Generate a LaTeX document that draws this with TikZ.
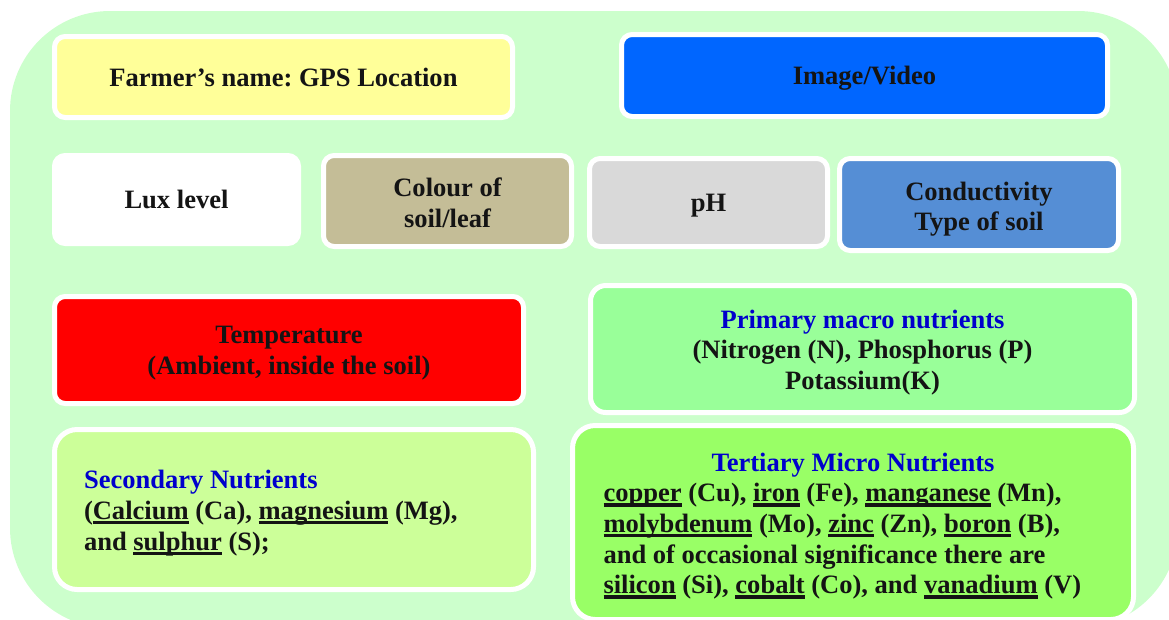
\documentclass[tikz,border=0pt]{standalone}
\usepackage{fontspec}
\setmainfont{Liberation Serif}
\frenchspacing

\definecolor{bggreen}{HTML}{CCFFCC}
\definecolor{farmeryellow}{HTML}{FFFF99}
\definecolor{mediablue}{HTML}{0066FF}
\definecolor{soiltan}{HTML}{C4BD97}
\definecolor{phgrey}{HTML}{D9D9D9}
\definecolor{condblue}{HTML}{558ED5}
\definecolor{tempred}{HTML}{FF0000}
\definecolor{primgreen}{HTML}{99FF99}
\definecolor{secgreen}{HTML}{CCFF99}
\definecolor{tertgreen}{HTML}{99FF66}
\definecolor{titleblue}{HTML}{0000CC}
\definecolor{inkblack}{HTML}{141414}

% word underlined with a heavy rule just below the baseline
\newsavebox\ulbox
\newcommand\ulword[1]{\leavevmode\sbox\ulbox{#1}%
  \rlap{\rule[-3.8pt]{\wd\ulbox}{2.5pt}}\usebox\ulbox}

\tikzset{
  box/.style={draw=white, line width=3.75pt, rounded corners=8pt,
    inner sep=0pt, align=center, text=inkblack,
    font=\fontsize{19.9}{23}\selectfont\bfseries},
  oneline/.style={text height=16pt, text depth=2pt},
  bigbox/.style={box, rounded corners=17pt, align=flush left},
}

\begin{document}
\begin{tikzpicture}[x=0.75pt, y=-0.75pt]
\useasboundingbox (0,0) rectangle (1169,619);

% panel behind all boxes
\fill[bggreen, rounded corners=75pt] (10,11) rectangle (1178,628);

% first row
\node[box, oneline, fill=farmeryellow, minimum width=343.5pt, minimum height=60.75pt]
  (farmer) at (283.5,77) {Farmer’s name: GPS Location};
\node[box, oneline, fill=mediablue, minimum width=364.5pt, minimum height=61.5pt]
  (media) at (864.5,75.5) {Image/Video};

% second row
\node[box, oneline, fill=white, minimum width=183pt, minimum height=66pt]
  (lux) at (176.5,199.5) {Lux level};
\node[box, fill=soiltan, minimum width=186pt, minimum height=68.25pt]
  (colour) at (447.5,201) {\rule{0pt}{17pt}Colour of\\soil/leaf};
\node[box, oneline, fill=phgrey, minimum width=178.5pt, minimum height=66pt]
  (ph) at (708.5,202.5) {pH};
\node[box, fill=condblue, minimum width=209.25pt, minimum height=69pt]
  (cond) at (979,204.5) {\rule{0pt}{21pt}Conductivity\\Type of soil};

% third row
\node[box, fill=tempred, minimum width=351.75pt, minimum height=80.25pt]
  (temp) at (289,350) {\rule{0pt}{18pt}Temperature\\(Ambient, inside the soil)};
\node[box, rounded corners=11.5pt, fill=primgreen, minimum width=408pt, minimum height=95.25pt]
  (primary) at (862.5,349)
  {\rule{0pt}{19pt}\textcolor{titleblue}{Primary macro nutrients}\\
   (Nitrogen (N), Phosphorus (P)\\
   Potassium(K)};

% fourth row
\node[bigbox, fill=secgreen, minimum height=120pt, text width=315pt,
  inner xsep=22.125pt]
  (secondary) at (294,509.5)
  {\rule{0pt}{19pt}\textcolor{titleblue}{Secondary Nutrients}\\
   (\ulword{Calcium} (Ca), \ulword{magnesium} (Mg),\\
   and \ulword{sulphur} (S);};
\node[bigbox, fill=tertgreen, minimum height=145.5pt, text width=374.25pt,
  inner xsep=23.25pt]
  (tertiary) at (853,522.5)
  {\rule{0pt}{19pt}\makebox[374.25pt][c]{\textcolor{titleblue}{Tertiary Micro Nutrients}}\\
   \ulword{copper} (Cu), \ulword{iron} (Fe), \ulword{manganese} (Mn),\\
   \ulword{molybdenum} (Mo), \ulword{zinc} (Zn), \ulword{boron} (B),\\
   and of occasional significance there are\\
   \ulword{silicon} (Si), \ulword{cobalt} (Co), and \ulword{vanadium} (V)};
\end{tikzpicture}
\end{document}
